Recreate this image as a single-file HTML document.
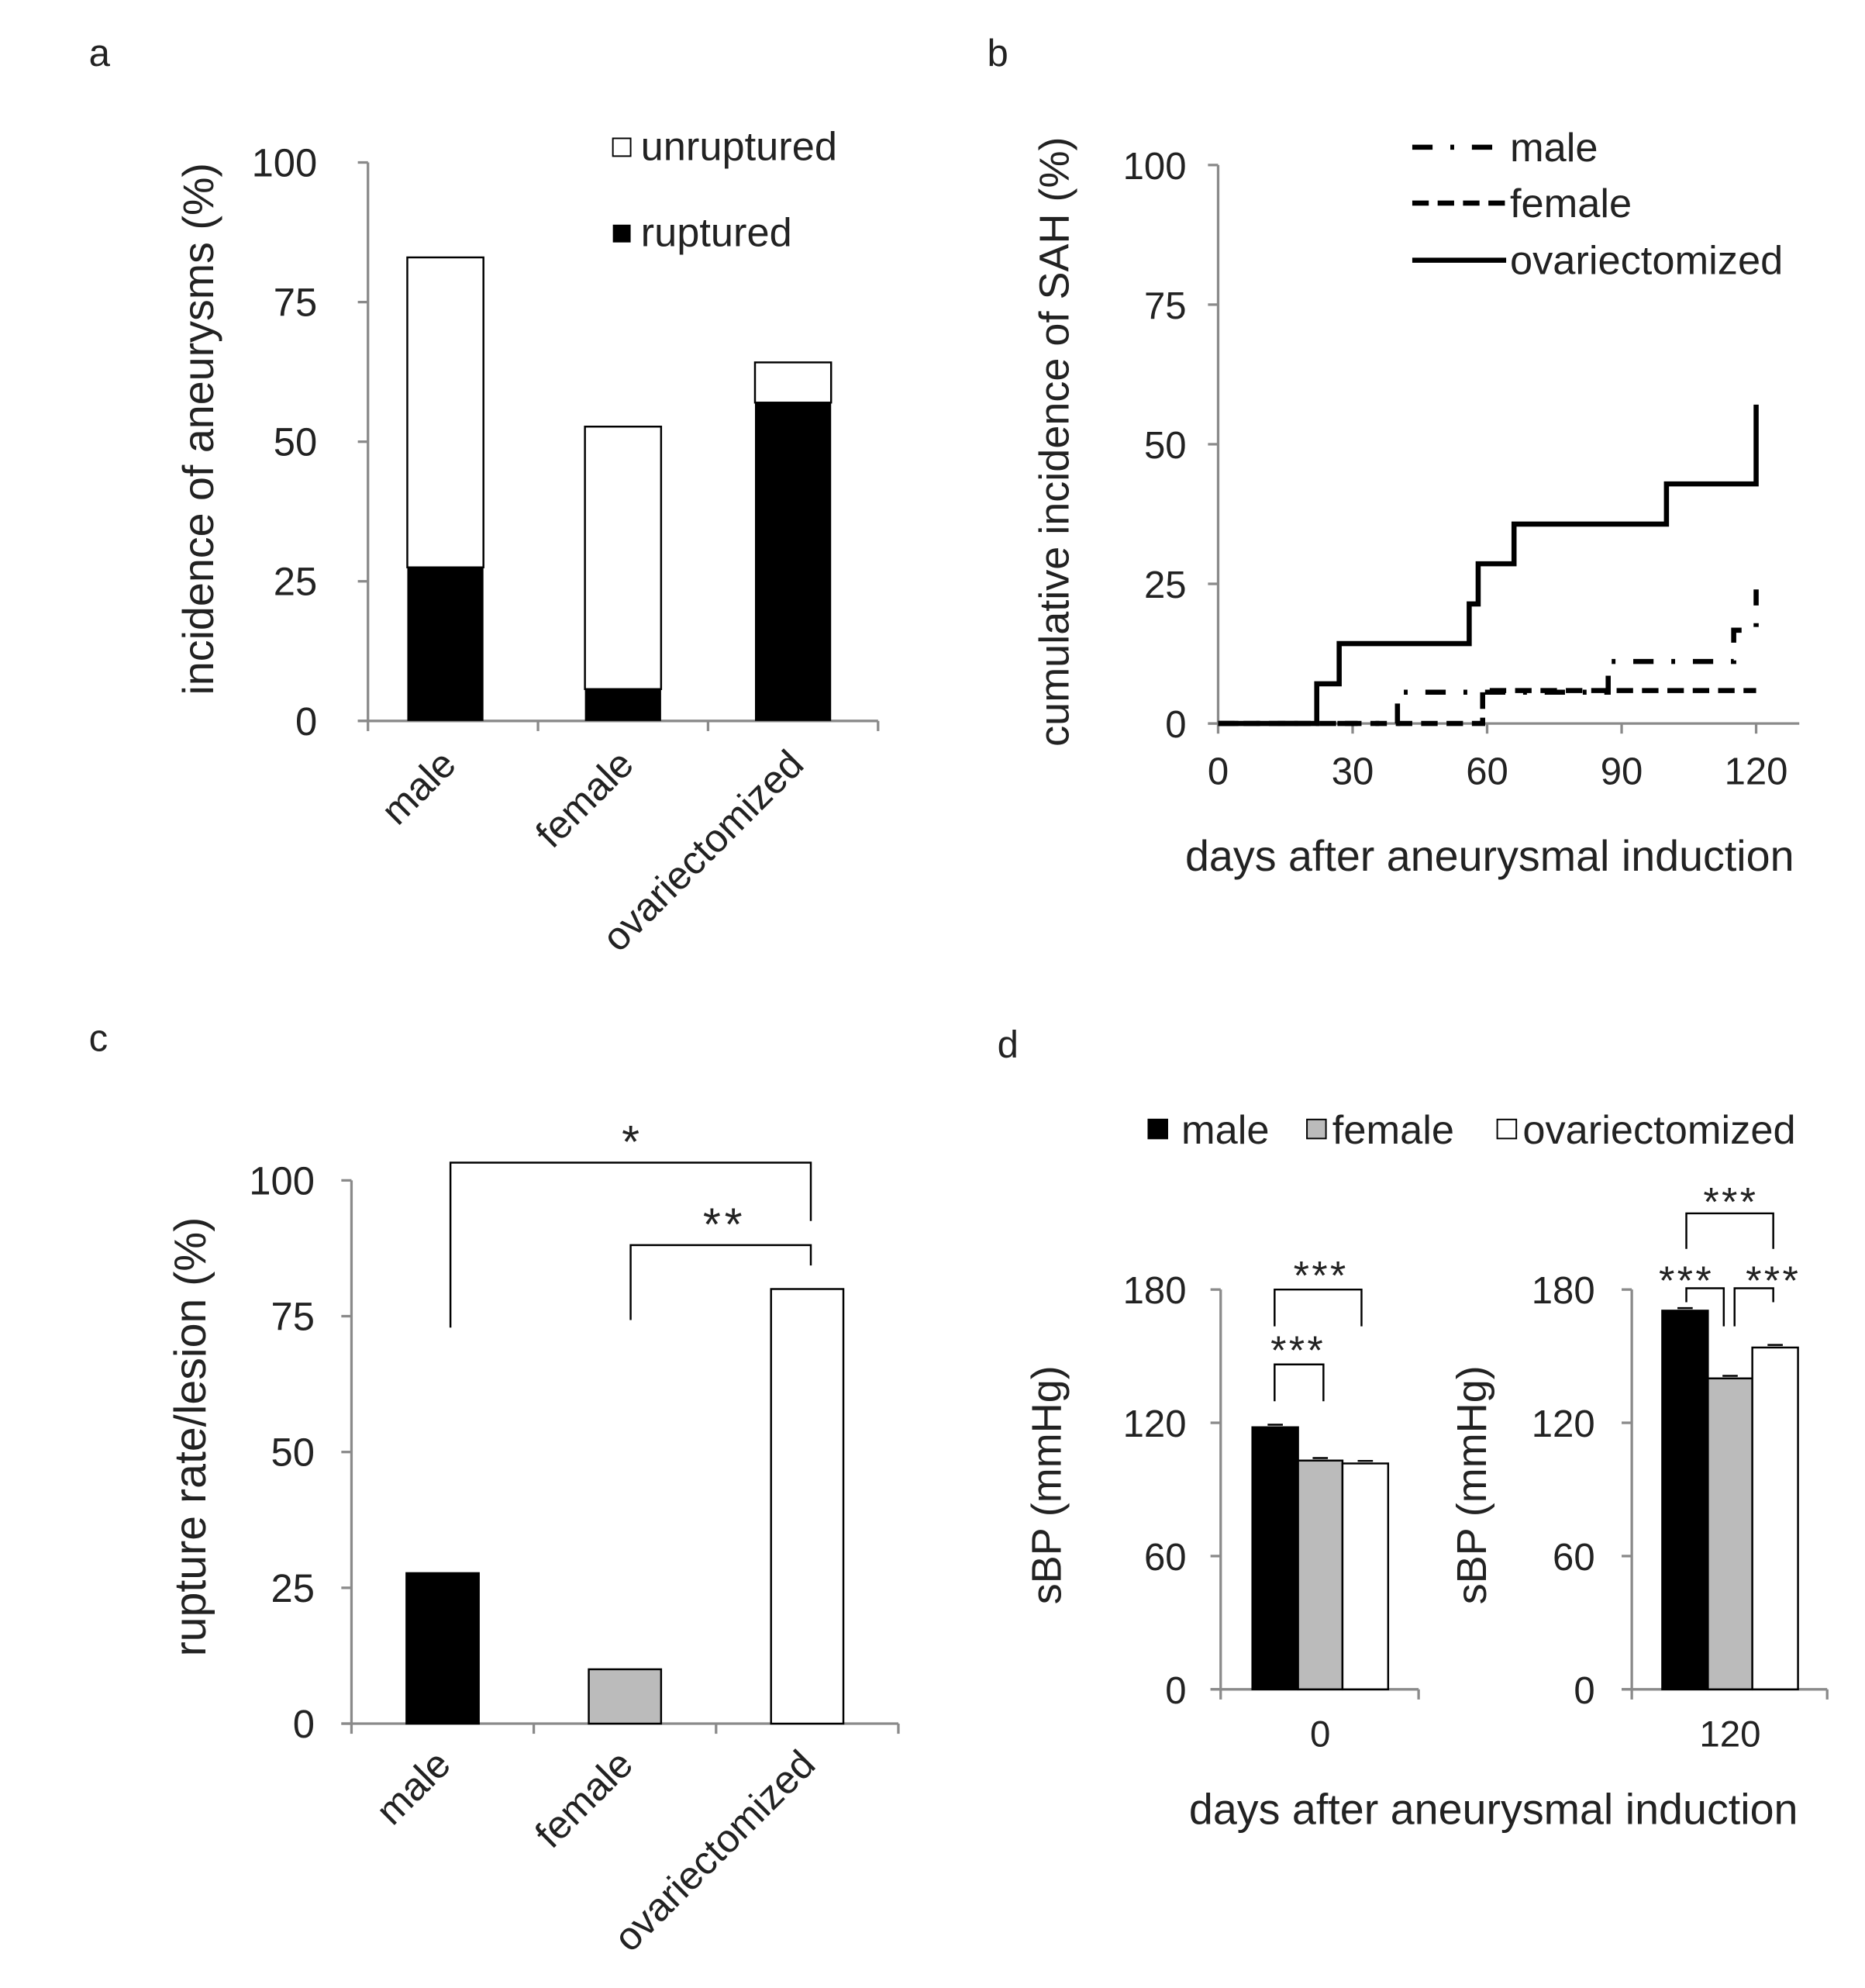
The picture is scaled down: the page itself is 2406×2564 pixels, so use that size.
<!DOCTYPE html>
<html><head><meta charset="utf-8"><style>
html,body{margin:0;padding:0;background:#fff}
svg{display:block}
text{font-family:"Liberation Sans",sans-serif;fill:#222}
</style></head><body>
<svg id="fig" xmlns="http://www.w3.org/2000/svg" width="2406" height="2564" viewBox="0 0 1469.8 1566.3"></svg>
<script>
// ---- Panel a data
const aCats = ["male","female","ovariectomized"];
const aRuptured = [27.5, 5.7, 57];
const aTotal = [83, 52.7, 64.2];
const aTicks = [0,25,50,75,100];
// ---- Panel b data (Kaplan-Meier style steps: [day, value])
const bTicksX = [0,30,60,90,120];
const bTicksY = [0,25,50,75,100];
const bOvxDays = [0,22,27,56,58,66,100,120,120];
const bOvxVals = [0,7.1,14.3,21.4,28.6,35.7,42.9,42.9,57.1];
const bFemDays = [0,59,120];
const bFemVals = [0,5.9,5.9];
const bMaleDays = [0,40,87,115,120,120];
const bMaleVals = [0,5.6,11.1,16.7,19,24];
// ---- Panel c data
const cCats = ["male","female","ovariectomized"];
const cVals = [27.7, 10, 80];
const cTicks = [0,25,50,75,100];
// ---- Panel d data
const dGroups = ["0","120"];
const dMale = [118, 170.5];
const dFemale = [103, 140];
const dOvx = [101.7, 153.9];
const dTicks = [0,60,120,180];

const svg = document.getElementById('fig');
const NS = "http://www.w3.org/2000/svg";
function el(tag, attrs, parent, txt){
  const e = document.createElementNS(NS, tag);
  for (const k in attrs) e.setAttribute(k, attrs[k]);
  if (txt !== undefined) e.textContent = txt;
  (parent||svg).appendChild(e);
  return e;
}
const AX = "#8a8a8a";

function label(t,x,y){
  const e = el('text',{x:x,y:y,'font-size':30},svg,t);
  
  
}

// ================= Panel a =================
(function(){
  const g = el('g',{});
  
  
  label('a',70,52);
  const x0=290,x1=692,yb=568,yt=128;
  const y = v => yb-(v/100)*(yb-yt);
  const bw=(x1-x0)/3;
  el('line',{x1:x0,y1:yt,x2:x0,y2:yb,stroke:AX,'stroke-width':2},g);
  el('line',{x1:x0-8,y1:yb,x2:x1,y2:yb,stroke:AX,'stroke-width':2},g);
  for(let i=0;i<=3;i++) el('line',{x1:x0+bw*i,y1:yb,x2:x0+bw*i,y2:yb+8,stroke:AX,'stroke-width':2},g);
  aTicks.forEach(t=>{
    el('line',{x1:x0-8,y1:y(t),x2:x0,y2:y(t),stroke:AX,'stroke-width':2},g);
    const tx=el('text',{x:250,y:y(t)+11,'font-size':31,'text-anchor':'end'},g,t);
    
    
  });
  const yt2=el('text',{transform:'translate(168,338) rotate(-90)','font-size':34,'text-anchor':'middle'},g,'incidence of aneurysms (%)');
  
  
  const w=60;
  aCats.forEach((c,i)=>{
    const cx=x0+bw*(i+0.5)-(i===0?6:0);
    const bx=cx-w/2;
    const u=el('rect',{x:bx,y:y(aTotal[i]),width:w,height:y(aRuptured[i])-y(aTotal[i]),fill:'#fff',stroke:'#000','stroke-width':1.5},g);
    
    
    const r=el('rect',{x:bx,y:y(aRuptured[i]),width:w,height:yb-y(aRuptured[i]),fill:'#000'},g);
    
    
    const t=el('text',{transform:`translate(${cx+10},604) rotate(-45)`,'font-size':31,'text-anchor':'end'},g,c);
    
    
  });
  const l1=el('rect',{x:483,y:109,width:14,height:14,fill:'#fff',stroke:'#000','stroke-width':1.2},g);
  
  
  const l1t=el('text',{x:505,y:126,'font-size':32},g,'unruptured');
  
  
  const l2=el('rect',{x:483,y:177,width:14,height:14,fill:'#000'},g);
  
  
  const l2t=el('text',{x:505,y:194,'font-size':32},g,'ruptured');
  
  
})();

// ================= Panel b =================
(function(){
  const g = el('g',{});
  
  
  label('b',778,52);
  const x0=960,yb=570,yt=130,xe=1418;
  const X = d => x0+d*(1384-x0)/120;
  const Y = v => yb-(v/100)*(yb-yt);
  el('line',{x1:x0,y1:yt,x2:x0,y2:yb,stroke:AX,'stroke-width':2},g);
  el('line',{x1:x0-8,y1:yb,x2:xe,y2:yb,stroke:AX,'stroke-width':2},g);
  bTicksY.forEach(t=>{
    el('line',{x1:x0-8,y1:Y(t),x2:x0,y2:Y(t),stroke:AX,'stroke-width':2},g);
    const tx=el('text',{x:935,y:Y(t)+11,'font-size':30,'text-anchor':'end'},g,t);
    
    
  });
  bTicksX.forEach(t=>{
    el('line',{x1:X(t),y1:yb,x2:X(t),y2:yb+8,stroke:AX,'stroke-width':2},g);
    const tx=el('text',{x:X(t),y:618,'font-size':30,'text-anchor':'middle'},g,t);
    
    
  });
  const xt=el('text',{x:1174,y:686,'font-size':34,'text-anchor':'middle'},g,'days after aneurysmal induction');
  
  
  const yt2=el('text',{transform:'translate(842,348) rotate(-90)','font-size':33,'text-anchor':'middle'},g,'cumulative incidence of SAH (%)');
  
  
  function step(days,vals){
    let d=`M${X(days[0])},${Y(vals[0])}`;
    for(let i=1;i<days.length;i++){ d+=` H${X(days[i])} V${Y(vals[i])}`; }
    return d;
  }
  const pf=el('path',{d:step(bFemDays,bFemVals),fill:'none',stroke:'#000','stroke-width':4,'stroke-dasharray':'13 7'},g);
  
  
  const pm=el('path',{d:step(bMaleDays,bMaleVals),fill:'none',stroke:'#000','stroke-width':4,'stroke-dasharray':'16 14 3 14'},g);
  
  
  const po=el('path',{d:step(bOvxDays,bOvxVals),fill:'none',stroke:'#000','stroke-width':4},g);
  
  
  const leg=[['male','16 14 3 14',116],['female','13 7',160],['ovariectomized','',205]];
  leg.forEach(l=>{
    const ln=el('line',{x1:1113,y1:l[2],x2:1187,y2:l[2],stroke:'#000','stroke-width':4,'stroke-dasharray':l[1]||'none'},g);
    
    
    const t=el('text',{x:1190,y:l[2]+11,'font-size':32},g,l[0]);
    
    
  });
})();

// ================= Panel c =================
(function(){
  const g = el('g',{});
  
  
  label('c',70,828);
  const x0=277,x1=708,yb=1358,yt=930;
  const y = v => yb-(v/100)*(yb-yt);
  const bw=(x1-x0)/3;
  el('line',{x1:x0,y1:yt,x2:x0,y2:yb,stroke:AX,'stroke-width':2},g);
  el('line',{x1:x0-8,y1:yb,x2:x1,y2:yb,stroke:AX,'stroke-width':2},g);
  for(let i=0;i<=3;i++) el('line',{x1:x0+bw*i,y1:yb,x2:x0+bw*i,y2:yb+8,stroke:AX,'stroke-width':2},g);
  cTicks.forEach(t=>{
    el('line',{x1:x0-8,y1:y(t),x2:x0,y2:y(t),stroke:AX,'stroke-width':2},g);
    const tx=el('text',{x:248,y:y(t)+11,'font-size':31,'text-anchor':'end'},g,t);
    
    
  });
  const yt2=el('text',{transform:'translate(162,1132) rotate(-90)','font-size':35,'text-anchor':'middle'},g,'rupture rate/lesion (%)');
  
  
  const fills=['#000','#bbb','#fff'];
  const w=57;
  cCats.forEach((c,i)=>{
    const cx=x0+bw*(i+0.5);
    const r=el('rect',{x:cx-w/2,y:y(cVals[i]),width:w,height:yb-y(cVals[i]),fill:fills[i],stroke:'#000','stroke-width':1.5},g);
    
    
    const t=el('text',{transform:`translate(${cx+8},1392) rotate(-45)`,'font-size':31,'text-anchor':'end'},g,c);
    
    
  });
  const b1=el('path',{d:'M355,1046 V916 H639 V962',fill:'none',stroke:'#000','stroke-width':1.5},g);
  
  
  const b2=el('path',{d:'M497,1040 V981 H639 V997',fill:'none',stroke:'#000','stroke-width':1.5},g);
  
  
  const s1=el('text',{x:497,y:912,'font-size':36,'text-anchor':'middle'},g,'*');
  
  
  const s2=el('text',{x:571,y:977,'font-size':36,'text-anchor':'middle','letter-spacing':3},g,'**');
  
  
})();

// ================= Panel d =================
(function(){
  const g = el('g',{});
  
  
  label('d',786,833);
  const yb=1331,yt=1016;
  const Y = v => yb-(v/180)*(yb-yt);
  const axes=[{x0:962,x1:1118,tx:935,bar0:987,title:825},{x0:1286,x1:1440,tx:1257,bar0:1310,title:1160}];
  const bw=[36,35,36];
  const fills=['#000','#bbb','#fff'];
  const series=[dMale,dFemale,dOvx];
  const names=['male','female','ovariectomized'];
  axes.forEach((a,gi)=>{
    el('line',{x1:a.x0,y1:yt,x2:a.x0,y2:yb,stroke:AX,'stroke-width':2},g);
    el('line',{x1:a.x0-8,y1:yb,x2:a.x1,y2:yb,stroke:AX,'stroke-width':2},g);
    el('line',{x1:a.x0,y1:yb,x2:a.x0,y2:yb+8,stroke:AX,'stroke-width':2},g);
    el('line',{x1:a.x1,y1:yb,x2:a.x1,y2:yb+8,stroke:AX,'stroke-width':2},g);
    dTicks.forEach(t=>{
      el('line',{x1:a.x0-8,y1:Y(t),x2:a.x0,y2:Y(t),stroke:AX,'stroke-width':2},g);
      const tx=el('text',{x:a.tx,y:Y(t)+11,'font-size':30,'text-anchor':'end'},g,t);
      
      
    });
    const ytl=el('text',{transform:`translate(${a.title+11},1170) rotate(-90)`,'font-size':33,'text-anchor':'middle'},g,'sBP (mmHg)');
    
    
    let bx=a.bar0;
    series.forEach((s,si)=>{
      const r=el('rect',{x:bx,y:Y(s[gi]),width:bw[si],height:yb-Y(s[gi]),fill:fills[si],stroke:'#000','stroke-width':1.5},g);
      
      
      el('line',{x1:bx+bw[si]/2-6,y1:Y(s[gi])-2,x2:bx+bw[si]/2+6,y2:Y(s[gi])-2,stroke:'#000','stroke-width':1.5},g);
      bx+=bw[si];
    });
    const xl=el('text',{x:(a.bar0+bx)/2,y:1376,'font-size':29,'text-anchor':'middle'},g,dGroups[gi]);
    
    
  });
  const xt=el('text',{x:1177,y:1437,'font-size':34,'text-anchor':'middle'},g,'days after aneurysmal induction');
  
  
  const br=[
    ['M1004.5,1045 V1016 H1073 V1045',1041,1007],
    ['M1004.5,1104 V1075 H1043 V1104',1023,1066],
    ['M1329,984 V956 H1397.5 V984',1364,949],
    ['M1329,1026 V1015 H1358.5 V1045',1329,1011],
    ['M1367,1045 V1015 H1397.5 V1026',1397.5,1011]
  ];
  br.forEach((b,i)=>{
    const p=el('path',{d:b[0],fill:'none',stroke:'#000','stroke-width':1.5},g);
    
    
    const t=el('text',{x:b[1],y:b[2]+9,'font-size':32,'text-anchor':'middle','letter-spacing':2},g,'***');
    
    
  });
  const leg=[[905,931,'#000','male'],[1030,1050,'#bbb','female'],[1180,1200,'#fff','ovariectomized']];
  leg.forEach(l=>{
    const r=el('rect',{x:l[0],y:882,width:15,height:15,fill:l[2],stroke:'#000','stroke-width':1.2},g);
    
    
    const t=el('text',{x:l[1],y:901,'font-size':32},g,l[3]);
    
    
  });
})();
</script>
</body></html>
